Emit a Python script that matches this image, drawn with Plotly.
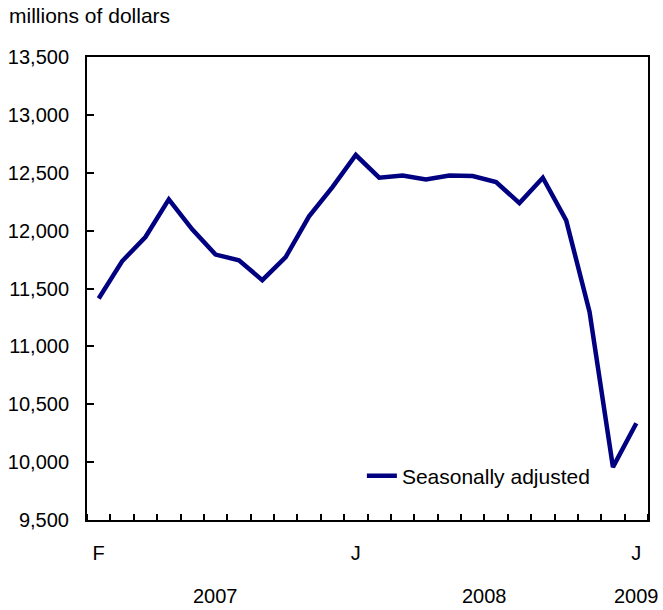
import plotly.graph_objects as go

months = ["Feb 2007", "Mar 2007", "Apr 2007", "May 2007", "Jun 2007", "Jul 2007",
          "Aug 2007", "Sep 2007", "Oct 2007", "Nov 2007", "Dec 2007",
          "Jan 2008", "Feb 2008", "Mar 2008", "Apr 2008", "May 2008", "Jun 2008",
          "Jul 2008", "Aug 2008", "Sep 2008", "Oct 2008", "Nov 2008", "Dec 2008",
          "Jan 2009"]
values = [11414, 11735, 11945, 12270, 12011, 11793, 11744, 11572, 11772, 12123,
          12376, 12653, 12457, 12477, 12442, 12477, 12471, 12419, 12238, 12457,
          12089, 11298, 9957, 10336]
month_tick_pos = [0, 11, 23]
month_tick_text = ["F", "J", "J"]
year_labels = ["2007", "2008", "2009"]
year_pos = [5, 16.5, 23]
series_name = "Seasonally adjusted"
y_title = "millions of dollars"

FONT = "Liberation Sans, Arial, sans-serif"
idx = list(range(len(values)))

fig = go.Figure()
fig.add_trace(go.Scatter(
    x=idx, y=values, mode="lines", name=series_name,
    line=dict(color="#000080", width=4.5),
    customdata=months,
    hovertemplate="%{customdata}: %{y:,}<extra></extra>",
))

for txt, pos in zip(year_labels, year_pos):
    fig.add_annotation(x=pos, y=0, xref="x", yref="paper", text=txt,
                       showarrow=False, yanchor="middle", yshift=-76,
                       font=dict(family=FONT, size=20, color="black"))

fig.add_annotation(x=0, y=1, xref="paper", yref="paper", text=y_title,
                   showarrow=False, xanchor="left", yanchor="middle",
                   xshift=-80, yshift=42,
                   font=dict(family=FONT, size=21, color="black"))

fig.update_layout(
    width=663, height=610,
    margin=dict(l=87, r=15, t=57, b=90, autoexpand=False),
    paper_bgcolor="white", plot_bgcolor="white",
    font=dict(family=FONT, size=20, color="black"),
    showlegend=True,
    legend=dict(x=0.490, y=0.095, xanchor="left", yanchor="middle",
                bgcolor="rgba(0,0,0,0)", font=dict(size=21)),
    xaxis=dict(
        range=[-0.5, 23.5], showgrid=False, zeroline=False, automargin=False,
        showline=True, linecolor="black", linewidth=2, mirror=True,
        tickmode="array", tickvals=month_tick_pos, ticktext=month_tick_text,
        ticks="", ticklabelstandoff=14,
        minor=dict(tick0=0.5, dtick=1, ticks="inside", ticklen=6,
                   tickwidth=1.5, tickcolor="black", showgrid=False),
    ),
    yaxis=dict(
        range=[9500, 13500], dtick=500, tick0=9500, showgrid=False,
        automargin=False,
        zeroline=False, showline=True, linecolor="black", linewidth=2,
        mirror=True, ticks="inside", ticklen=7, tickwidth=1.5,
        tickcolor="black", tickformat=",", ticklabelstandoff=12,
    ),
)

fig.write_html("out.html",
               config={"displayModeBar": False},
               post_script="document.body.style.margin='0px';"
                           "document.body.style.overflow='hidden';")
